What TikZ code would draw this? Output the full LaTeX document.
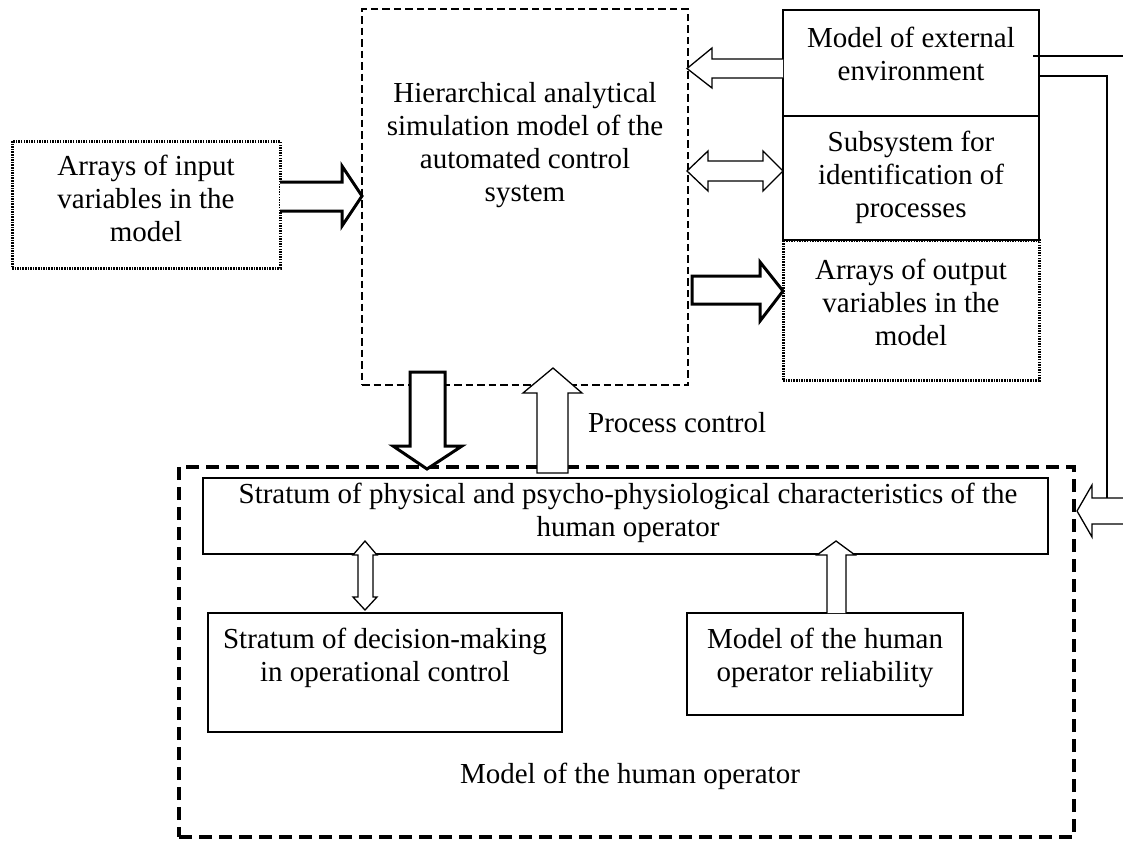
\documentclass[tikz,border=0pt]{standalone}
\usepackage{fontspec}
\setmainfont{Liberation Serif}
\usetikzlibrary{fit}
\begin{document}
\begin{tikzpicture}[x=1pt,y=-1pt,
  box/.style={draw, line width=1.3pt, inner sep=0pt},
  dotbox/.style={draw, line width=3pt, dash pattern=on 1.5pt off 1.1pt, inner sep=0pt},
  dashbox/.style={draw, line width=2pt, dash pattern=on 7.5pt off 4pt, inner sep=0pt},
  bigdash/.style={draw, line width=4pt, dash pattern=on 13pt off 7pt, inner sep=0pt},
  txt/.style={inner sep=0pt, align=center, font=\fontsize{29}{33}\selectfont},
  hollow/.style={draw, fill=white, line width=1.3pt, line join=miter},
  thickhollow/.style={draw, fill=white, line width=3pt, line join=miter},
  link/.style={draw, line width=1.3pt, line join=miter}]
\useasboundingbox (0,0) rectangle (1123,841);
% corner coordinates
\coordinate (c1) at (362,9);   \coordinate (c2) at (688,385);
\coordinate (i1) at (12,141);  \coordinate (i2) at (280,268);
\coordinate (e1) at (783,10);  \coordinate (e2) at (1039,116);
\coordinate (s1) at (783,116); \coordinate (s2) at (1039,240);
\coordinate (o1) at (783,240); \coordinate (o2) at (1039,380);
\coordinate (h1) at (179,467); \coordinate (h2) at (1074,837);
\coordinate (p1) at (203,478); \coordinate (p2) at (1048,554);
\coordinate (d1) at (208,613); \coordinate (d2) at (562,732);
\coordinate (r1) at (687,613); \coordinate (r2) at (963,715);
% boxes
\node[dashbox, fit=(c1)(c2)] (central) {};
\node[dotbox, fit=(i1)(i2)] (input) {};
\node[box, fit=(e1)(e2)] (env) {};
\node[box, fit=(s1)(s2)] (ident) {};
\node[dotbox, fit=(o1)(o2)] (output) {};
\node[bigdash, fit=(h1)(h2)] (human) {};
\node[box, fit=(p1)(p2)] (stratum) {};
\node[box, fit=(d1)(d2)] (decision) {};
\node[box, fit=(r1)(r2)] (reliab) {};
% texts
\node[txt] (centralt) at (525,145) {Hierarchical analytical\\simulation model of the\\automated control\\system};
\node[txt] (inputt) at (146,198) {Arrays of input\\variables in the\\model};
\node[txt] (envt) at (911,53.5) {Model of external\\environment};
\node[txt] (identt) at (911,177) {Subsystem for\\identification of\\processes};
\node[txt] (outputt) at (911,302) {Arrays of output\\variables in the\\model};
\node[txt] (stratumt) at (628,513) {Stratum of physical and psycho-physiological characteristics of the\\human operator};
\node[txt] (decisiont) at (385,658) {Stratum of decision-making\\in operational control};
\node[txt] (reliabt) at (825,658) {Model of the human\\operator reliability};
\node[txt, anchor=west] (proc) at (588,423) {Process control};
\node[txt] (humant) at (630,776) {Model of the human operator};
% hollow arrows
\draw[thickhollow] (280,182) -- (342,182) -- (342,166) -- (362,196) -- (342,226) -- (342,211) -- (280,211);
\draw[hollow] (783,59) -- (712,59) -- (712,48) -- (687,68.5) -- (712,88) -- (712,78) -- (783,78);
\draw[hollow] (687,171) -- (708,151) -- (708,161) -- (763,161) -- (763,151) -- (783,171) -- (763,191) -- (763,181) -- (708,181) -- (708,191) -- cycle;
\draw[thickhollow] (692,276) -- (760,276) -- (760,262) -- (783,291) -- (760,321) -- (760,304) -- (692,304) -- cycle;
\draw[thickhollow] (410,372) -- (445,372) -- (445,446) -- (462,446) -- (427,469) -- (393,446) -- (410,446) -- cycle;
\draw[hollow] (537,473) -- (537,393) -- (523,393) -- (553,368) -- (582,393) -- (568,393) -- (568,473) -- cycle;
\draw[hollow] (365,541) -- (377,555) -- (373,555) -- (373,597) -- (377,597) -- (365,610) -- (353,597) -- (358,597) -- (358,555) -- (353,555) -- cycle;
\draw[hollow] (827,613) -- (827,555) -- (817,555) -- (836,541) -- (855,555) -- (846,555) -- (846,613);
% external environment feedback (wide hollow arrow leaving the picture)
\draw[link] (1033,56) -- (1125,56);
\draw[link] (1039,76) -- (1107,76) -- (1107,498);
\draw[hollow] (1125,498) -- (1092,498) -- (1092,485) -- (1077,511) -- (1092,537) -- (1092,524) -- (1125,524);
\end{tikzpicture}
\end{document}
